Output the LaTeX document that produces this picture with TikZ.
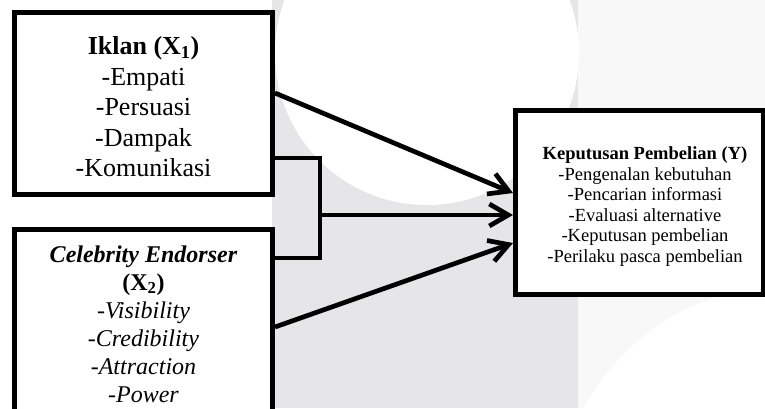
\documentclass[tikz,border=0pt]{standalone}
\usepackage{fontspec}
\setmainfont{Liberation Serif}
\usetikzlibrary{arrows.meta,shadows}
\definecolor{bandgray}{HTML}{E6E6E8}
\definecolor{lightbg}{HTML}{F8F8F8}
\begin{document}
\begin{tikzpicture}[x=1pt,y=-1pt,
  box/.style={draw, line width=5pt, fill=white, inner sep=0pt,
    drop shadow={shadow xshift=1.5pt, shadow yshift=-1.5pt, opacity=0.25}},
  txt/.style={inner sep=0pt, align=center},
  conn/.style={line width=4.7pt},
  arr/.style={conn, -{Straight Barb[length=19pt,width=22pt]}}]
\useasboundingbox (0,0) rectangle (765,408);
\clip (0,0) rectangle (765,408);
% watermark background
\fill[white] (0,0) rectangle (765,408);
\fill[lightbg] (578,0) rectangle (765,408);
\fill[bandgray] (272,0) rectangle (578,408);
\fill[white] (427,53) circle[radius=152pt];
\fill[white] (790,520) circle[radius=235pt];
% boxes
\node[box, minimum width=258pt, minimum height=182pt] (x1) at (143.5,103.5) {};
\node[box, minimum width=258pt, minimum height=187pt] (x2) at (143.5,323) {};
\node[box, minimum width=247.5pt, minimum height=184pt] (y) at (639.25,202.5) {};
% texts
\node[txt, font=\fontsize{26}{30.5}\selectfont] (x1t) at (143.5,107)
  {\textbf{Iklan (X\textsubscript{1})}\\-Empati\\-Persuasi\\-Dampak\\-Komunikasi};
\node[txt, font=\fontsize{24}{28}\selectfont] (x2t) at (143.5,324)
  {\textbf{\textit{Celebrity Endorser}}\\\textbf{(X\textsubscript{2})}\\\textit{-Visibility}\\\textit{-Credibility}\\\textit{-Attraction}\\\textit{-Power}};
\node[txt, font=\fontsize{18.5}{20.5}\selectfont] (yt) at (645,206.5)
  {\textbf{Keputusan Pembelian (Y)}\\-Pengenalan kebutuhan\\-Pencarian informasi\\-Evaluasi alternative\\-Keputusan pembelian\\-Perilaku pasca pembelian};
% connectors
\coordinate (j) at (320,215);
\draw[arr] (x1.east |- 0,93) -- (y.west |- 0,193);
\draw[conn] (x1.east |- 0,158) -- (320,158) -- (320,258) -- (x2.east |- 0,258);
\draw[arr] (j) -- (y.west |- j);
\draw[arr] (x2.east |- 0,327) -- (y.west |- 0,243);
\end{tikzpicture}
\end{document}
